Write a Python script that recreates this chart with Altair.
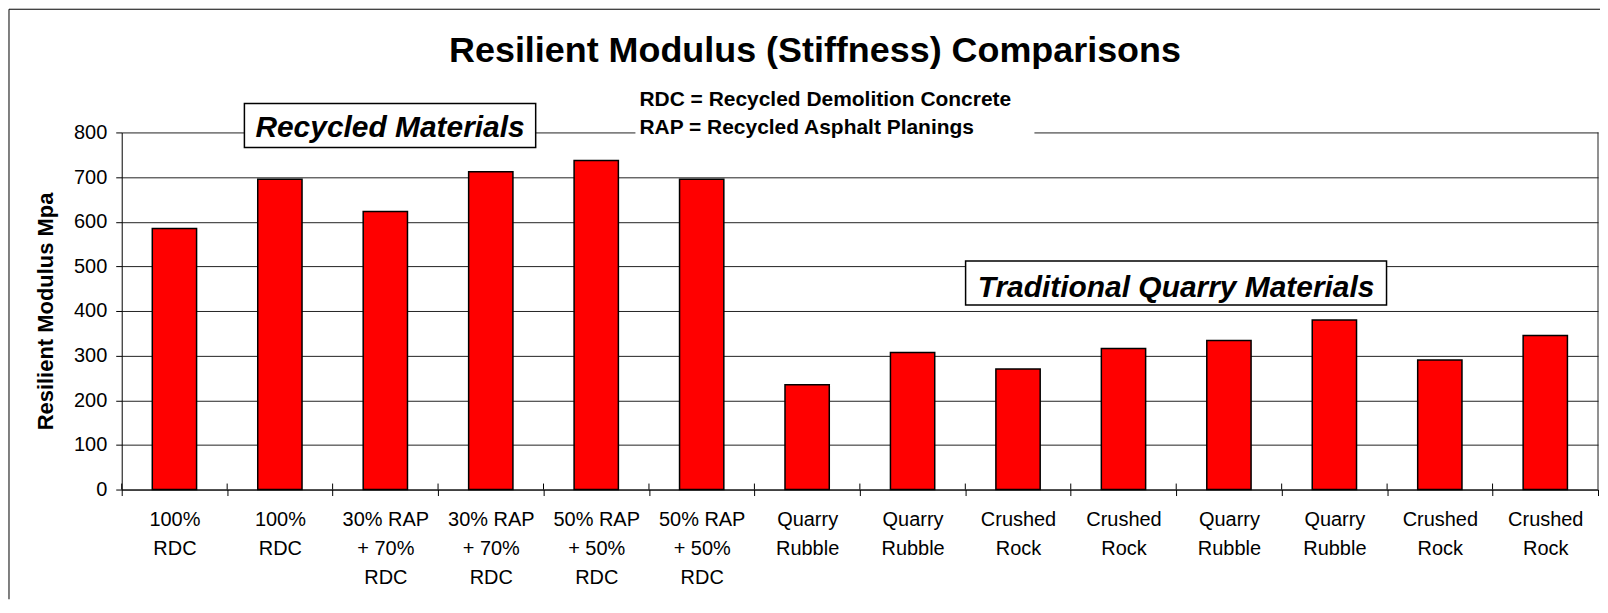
import json
import altair as alt
import pandas as pd

# ---- data ----
categories = [
    ["100%", "RDC"], ["100%", "RDC"],
    ["30% RAP", "+ 70%", "RDC"], ["30% RAP", "+ 70%", "RDC"],
    ["50% RAP", "+ 50%", "RDC"], ["50% RAP", "+ 50%", "RDC"],
    ["Quarry", "Rubble"], ["Quarry", "Rubble"],
    ["Crushed", "Rock"], ["Crushed", "Rock"],
    ["Quarry", "Rubble"], ["Quarry", "Rubble"],
    ["Crushed", "Rock"], ["Crushed", "Rock"],
]
values = [585, 695, 623, 712, 737, 695, 235, 307, 270, 316, 334, 380, 290, 345]
y_ticks = [0, 100, 200, 300, 400, 500, 600, 700, 800]

title_text = "Resilient Modulus (Stiffness) Comparisons"
y_title = "Resilient Modulus Mpa"
notes = ["RDC = Recycled Demolition Concrete", "RAP = Recycled Asphalt Planings"]
group_labels = ["Recycled Materials", "Traditional Quarry Materials"]

# ---- layout / style ----
W, H = 1480, 358
FONT = "Liberation Sans, Arial, sans-serif"

df = pd.DataFrame({"idx": list(range(len(values))), "value": values})
one = pd.DataFrame({"k": [0]})
label_expr = json.dumps(categories) + "[datum.value]"

x_axis = alt.Axis(
    title=None, labelExpr=label_expr, labelAngle=0, labelFont=FONT,
    labelFontSize=20, labelColor="black", labelLineHeight=29,
    labelPadding=14, labelBaseline="top", labelAlign="center",
    labelOverlap=False, labelLimit=200,
    tickBand="extent", tickSize=6, tickColor="black",
    domainColor="black", grid=False,
)
x_scale = alt.Scale(paddingInner=0, paddingOuter=0)

y_enc = alt.Y(
    "value:Q",
    scale=alt.Scale(domain=[0, 800], nice=False),
    axis=alt.Axis(
        values=y_ticks, title=y_title, titleFont=FONT, titleFontSize=22,
        titleFontWeight="bold", titleColor="black", titleAngle=270,
        titleX=-76, titleY=H / 2, titleAlign="center", titleBaseline="middle",
        labelFont=FONT, labelFontSize=20, labelColor="black", labelPadding=9,
        tickSize=6, tickColor="black", domainColor="black",
        gridColor="#222222", gridWidth=1, gridOpacity=1,
    ),
)

bars = alt.Chart(df).mark_bar(
    width={"band": 0.42}, color="#FF0000", stroke="black", strokeWidth=1.5
).encode(x=alt.X("idx:O", sort=None, scale=x_scale, axis=x_axis), y=y_enc)

inner_ticks = alt.Chart(df).mark_rule(color="black", strokeWidth=1).encode(
    x=alt.X("idx:O", sort=None, bandPosition=0, scale=x_scale, axis=x_axis),
    y=alt.value(H - 6), y2=alt.value(H),
)

border_right = alt.Chart(one).mark_rule(color="#222222", strokeWidth=1).encode(
    x=alt.value(W), y=alt.value(0), y2=alt.value(H)
)

frame_left = alt.Chart(one).mark_rule(color="black", strokeWidth=1).encode(
    x=alt.value(-113), y=alt.value(-123.5), y2=alt.value(H + 110)
)
frame_top = alt.Chart(one).mark_rule(color="black", strokeWidth=1).encode(
    x=alt.value(-113), x2=alt.value(W + 2), y=alt.value(-123.5)
)

note_bg = alt.Chart(one).mark_rect(fill="white", stroke=None).encode(
    x=alt.value(515), x2=alt.value(915), y=alt.value(-42), y2=alt.value(10)
)
box1 = alt.Chart(one).mark_rect(fill="white", stroke="black", strokeWidth=1.5).encode(
    x=alt.value(123), x2=alt.value(415), y=alt.value(-29), y2=alt.value(15)
)
box2 = alt.Chart(one).mark_rect(fill="white", stroke="black", strokeWidth=1.5).encode(
    x=alt.value(846), x2=alt.value(1268), y=alt.value(129), y2=alt.value(173)
)


def label(text, x, y, size, align="center", italic=False):
    return alt.Chart(one).mark_text(
        text=text, font=FONT, fontSize=size, fontWeight="bold",
        fontStyle="italic" if italic else "normal",
        align=align, baseline="alphabetic", color="black",
    ).encode(x=alt.value(x), y=alt.value(y))


title = label(title_text, 695, -71, 36)
note1 = label(notes[0], 519, -26, 21, align="left")
note2 = label(notes[1], 519, 2, 21, align="left")
grp1 = label(group_labels[0], 269, 5, 30, italic=True)
grp2 = label(group_labels[1], 1057, 165, 30, italic=True)

chart = alt.layer(
    frame_left, frame_top, bars, inner_ticks, border_right,
    note_bg, box1, box2, title, note1, note2, grp1, grp2,
).properties(
    width=W, height=H,
    padding={"left": 114, "top": 124, "right": 2, "bottom": 110},
    autosize="none",
    background="white",
).configure_view(stroke=None)

chart.save("out.html", embed_options={"renderer": "svg", "actions": False})
